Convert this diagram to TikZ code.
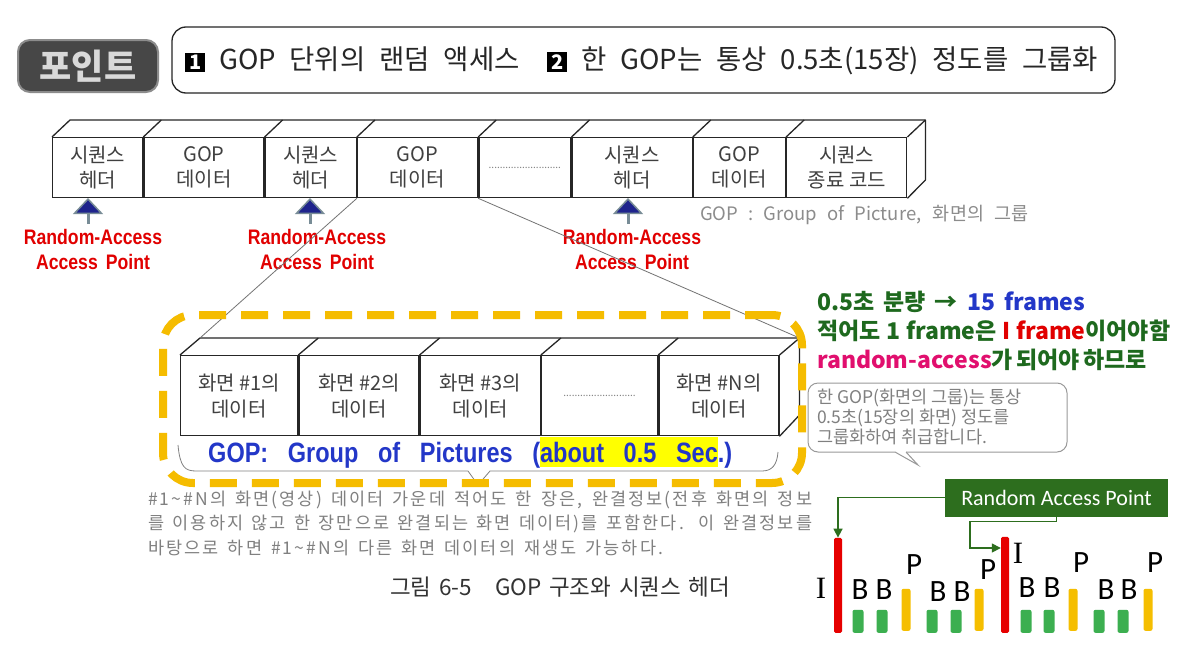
\documentclass[tikz,border=0pt]{standalone}
\usepackage{fontspec}
\setmainfont{Noto Sans CJK KR}
\newfontfamily\fkr{Noto Sans CJK KR}
\newfontfamily\fkrls{Noto Sans CJK KR}[LetterSpace=12]
\newfontfamily\fnar{Liberation Sans}[FakeStretch=0.84]
\newfontfamily\fgop{Liberation Sans}[FakeStretch=0.84,WordSpace=3]
\newfontfamily\fcal{Carlito}
\newfontfamily\fser{Liberation Serif}
\usetikzlibrary{arrows.meta,calc}
\definecolor{gold}{RGB}{245,188,0}
\definecolor{rred}{RGB}{225,0,0}
\definecolor{dgreen}{RGB}{30,105,30}
\definecolor{gblue}{RGB}{35,55,200}
\definecolor{mag}{RGB}{225,15,110}
\definecolor{boxgreen}{RGB}{45,110,30}
\definecolor{barred}{RGB}{230,0,0}
\definecolor{bargreen}{RGB}{60,175,80}
\definecolor{baryel}{RGB}{245,190,0}
\definecolor{navy}{RGB}{30,35,140}
\definecolor{slate}{RGB}{120,140,150}
\definecolor{hl}{RGB}{255,255,0}
\newcommand\myfs[2]{\fontsize{#1}{#2}\selectfont}
\newcommand\nbox[1]{{\setlength{\fboxsep}{2.5pt}\colorbox{black}{\makebox[15pt]{\textcolor{white}{\bfseries\myfs{20}{20}#1}}}}}
\newcommand\hlbox[1]{{\setlength{\fboxsep}{0pt}\colorbox{hl}{\rule[-5pt]{0pt}{30pt}#1}}}
\tikzset{
  cellA/.style={draw=black!85, line width=1.3, minimum height=60, inner sep=0, anchor=north west, align=center, text=black!75, font=\fkr\myfs{20}{25}},
  cellB/.style={cellA, minimum height=80, font=\fkr\myfs{20}{26}},
  boxline/.style={draw=black!85, line width=1.3, line join=round},
  rap/.style={draw=slate, line width=3, -{Triangle[width=30pt,length=16pt,fill=navy,line width=1.5pt]}},
  rlab/.style={text=rred, align=center, font=\fnar\bfseries\myfs{21}{25}, inner sep=0},
  conn/.style={draw=black!55, line width=0.8},
  rt/.style={font=\fkr\bfseries\myfs{23}{23}, inner sep=0, anchor=west},
  para/.style={font=\fkrls\myfs{17.5}{17.5}, text=black!50, inner sep=0, anchor=west},
  ibar/.style={fill=barred, minimum width=8, minimum height=95, inner sep=0, anchor=south, rounded corners=1.5},
  bbar/.style={fill=bargreen, minimum width=11, minimum height=23, inner sep=0, anchor=south, rounded corners=2},
  pbar/.style={fill=baryel, minimum width=9, minimum height=42, inner sep=0, anchor=south, rounded corners=2},
  blab/.style={font=\fcal\myfs{31}{31}, inner sep=0},
  garrow/.style={draw=boxgreen, line width=1.5, -{Triangle[width=9pt,length=9pt]}}
}
\begin{document}
\begin{tikzpicture}[x=1pt,y=-1pt]
\fill[white] (0,0) rectangle (1177,648);
\useasboundingbox (0,0) rectangle (1177,648);

% badge and banner
\node[draw=black!45, line width=2, fill=black!72, rounded corners=12, minimum width=140, minimum height=52, text=black!15, font=\fkr\bfseries\myfs{35}{35}, inner sep=0] (badge) at (88,66) {포인트};
\node[draw=black!85, line width=1.3, rounded corners=14, minimum width=943, minimum height=66, inner sep=0] (banner) at (643.5,60) {};
\node[font=\fkr\myfs{27.5}{27.5}, text=black!85, inner sep=0, anchor=west] (bantext) at (185,61) {\makebox[913pt][s]{\nbox{1} GOP 단위의 랜덤 액세스\ \ \nbox{2} 한 GOP는 통상 0.5초(15장) 정도를 그룹화}};

% top row
\node[cellA, minimum width=90] (c1) at (52,137) {시퀀스\\헤더};
\node[cellA, minimum width=120] (c2) at (c1.north east) {GOP\\데이터};
\node[cellA, minimum width=91] (c3) at (c2.north east) {시퀀스\\헤더};
\node[cellA, minimum width=120] (c4) at (c3.north east) {GOP\\데이터};
\node[cellA, minimum width=92, font=\myfs{10}{10}, text=black!50] (c5) at (c4.north east) {..........................};
\node[cellA, minimum width=120] (c6) at (c5.north east) {시퀀스\\헤더};
\node[cellA, minimum width=92] (c7) at (c6.north east) {GOP\\데이터};
\node[cellA, minimum width=120] (c8) at (c7.north east) {시퀀스\\종료 코드};
\draw[boxline] (c1.north west) -- ++(18,-17) -- ($(c8.north east)+(18,-17)$) -- ++(0,60) -- (c8.south east);
\draw[boxline] (c8.north east) -- ++(18,-17);
\foreach \c in {c2,c3,c4,c5,c6,c7,c8} \draw[boxline] (\c.north west) -- ++(18,-17);

% random access arrows
\coordinate (t1) at (88,198); \coordinate (s1) at (88,224);
\coordinate (t2) at (310,198); \coordinate (s2) at (310,224);
\coordinate (t3) at (628,198); \coordinate (s3) at (628,224);
\draw[rap] (s1) -- (t1);
\draw[rap] (s2) -- (t2);
\draw[rap] (s3) -- (t3);
\node[rlab] (l1) at (93,249.5) {Random-Access\\Access\hspace{8pt}Point};
\node[rlab] (l2) at (317,249.5) {Random-Access\\Access\hspace{8pt}Point};
\node[rlab] (l3) at (632,249.5) {Random-Access\\Access\hspace{8pt}Point};
\node[font=\fkr\myfs{18.5}{18.5}, text=black!45, inner sep=0, anchor=west] (gopnote) at (700,215) {\makebox[328pt][s]{GOP : Group of Picture, 화면의 그룹}};

% inner GOP box
\node[cellB, minimum width=117] (g1) at (180,355) {화면 \#1의\\데이터};
\node[cellB, minimum width=120] (g2) at (g1.north east) {화면 \#2의\\데이터};
\node[cellB, minimum width=120] (g3) at (g2.north east) {화면 \#3의\\데이터};
\node[cellB, minimum width=116, font=\myfs{10}{10}, text=black!50] (g4) at (g3.north east) {..........................};
\node[cellB, minimum width=120] (g5) at (g4.north east) {화면 \#N의\\데이터};
\draw[boxline] (g1.north west) -- ++(20,-17) -- ($(g5.north east)+(20,-17)$) -- ++(0,77) -- (g5.south east);
\draw[boxline] (g5.north east) -- ++(20,-17);
\foreach \c in {g2,g3,g4,g5} \draw[boxline] (\c.north west) -- ++(20,-17);

% connectors from top row
\draw[conn] (c4.south west) -- ($(g1.north west)+(20,-17)$);
\draw[conn] (c4.south east) -- ($(g5.north east)+(20,-17)$);

% brace under inner box
\draw[draw=black!50, line width=0.8] (178,445) .. controls (180,467) and (185,471) .. (196,471) -- (468,471) -- (478,485) -- (490,471) -- (762,471) .. controls (772,471) and (777,465) .. (778,452);

% dashed frame
\node[draw=gold, line width=8, dash pattern=on 27pt off 15pt, rounded corners=30, minimum width=639, minimum height=168, inner sep=0] (frame) at (482.5,399) {};
\node[font=\fgop\bfseries\myfs{28}{28}, text=gblue, inner sep=0, anchor=base west] (goptext) at (208,462) {GOP: Group of Pictures (\hlbox{about 0.5 Sec}.)};

% right side notes
\node[rt] (r1) at (817,302) {\makebox[268pt][s]{\color{dgreen}0.5초 분량 → \color{gblue}15 frames}};
\node[rt] (r2) at (817,331) {\makebox[353pt][s]{\color{dgreen}적어도 1 frame은 \textcolor{rred}{I frame}이어야함}};
\node[rt] (r3) at (817,360) {\makebox[326pt][s]{\textcolor{mag}{random-access}\color{dgreen}가 되어야 하므로}};

% speech bubble
\draw[draw=black!40, line width=1, rounded corners=10, fill=white] (906,452) -- (1067,452) -- (1067,383) -- (808,383) -- (808,452) -- (895,452);
\draw[draw=black!40, line width=1] (895,452) -- (918,465) -- (906,452);
\node[font=\fkr\myfs{17.5}{20}, text=black!50, inner sep=0, anchor=west, align=left] (bt) at (817,417) {한 GOP(화면의 그룹)는 통상\\0.5초(15장의 화면) 정도를\\그룹화하여 취급합니다.};

% bottom paragraph and caption
\node[para] (p1) at (148,500) {\makebox[664pt][s]{\#1\textasciitilde\#N의 화면(영상) 데이터 가운데 적어도 한 장은, 완결정보(전후 화면의 정보}};
\node[para] (p2) at (148,524) {\makebox[664pt][s]{를 이용하지 않고 한 장만으로 완결되는 화면 데이터)를 포함한다. 이 완결정보를}};
\node[para] (p3) at (148,548) {\makebox[515pt][s]{바탕으로 하면 \#1\textasciitilde\#N의 다른 화면 데이터의 재생도 가능하다.}};
\node[font=\fkr\myfs{22.5}{22.5}, text=black!80, inner sep=0, anchor=west] (cap) at (390,587) {\makebox[340pt][s]{그림 6-5\ \ \ GOP 구조와 시퀀스 헤더}};

% frame structure chart
\node[fill=boxgreen, text=white, font=\fcal\myfs{22}{22}, minimum width=223, minimum height=38, inner sep=0] (rapbox) at (1056.5,497.5) {Random Access Point};
\node[ibar] (i1) at (838,633) {};
\node[ibar, minimum height=96] (i2) at (1005,633) {};
\node[bbar] (b1) at (858,633) {};
\node[bbar] (b2) at (882,633) {};
\node[bbar] (b3) at (932,633) {};
\node[bbar] (b4) at (956,633) {};
\node[bbar] (b5) at (1026,633) {};
\node[bbar] (b6) at (1049,633) {};
\node[bbar] (b7) at (1099,633) {};
\node[bbar] (b8) at (1123,633) {};
\node[pbar] (q1) at (906,631) {};
\node[pbar] (q2) at (979,631) {};
\node[pbar] (q3) at (1073,631) {};
\node[pbar] (q4) at (1148,631) {};
\node[font=\fser\myfs{31}{31}, inner sep=0] (li1) at (821,588) {I};
\node[font=\fser\myfs{31}{31}, inner sep=0] (li2) at (1018,553) {I};
\node[blab] (lb1) at (860,590) {B};
\node[blab] (lb2) at (884,590) {B};
\node[blab] (lb3) at (938,592) {B};
\node[blab] (lb4) at (962,592) {B};
\node[blab] (lb5) at (1027,588) {B};
\node[blab] (lb6) at (1052,588) {B};
\node[blab] (lb7) at (1106,590) {B};
\node[blab] (lb8) at (1129,590) {B};
\node[blab] (lp1) at (914,565) {P};
\node[blab] (lp2) at (988,570) {P};
\node[blab] (lp3) at (1081,563) {P};
\node[blab] (lp4) at (1155,563) {P};
\draw[garrow] (rapbox.west) -| (i1.north);
\coordinate (k2) at (970,548);
\draw[garrow] (rapbox.south) -- ++(0,5) -| (k2) -- (k2 -| i2.west);
\end{tikzpicture}
\end{document}
